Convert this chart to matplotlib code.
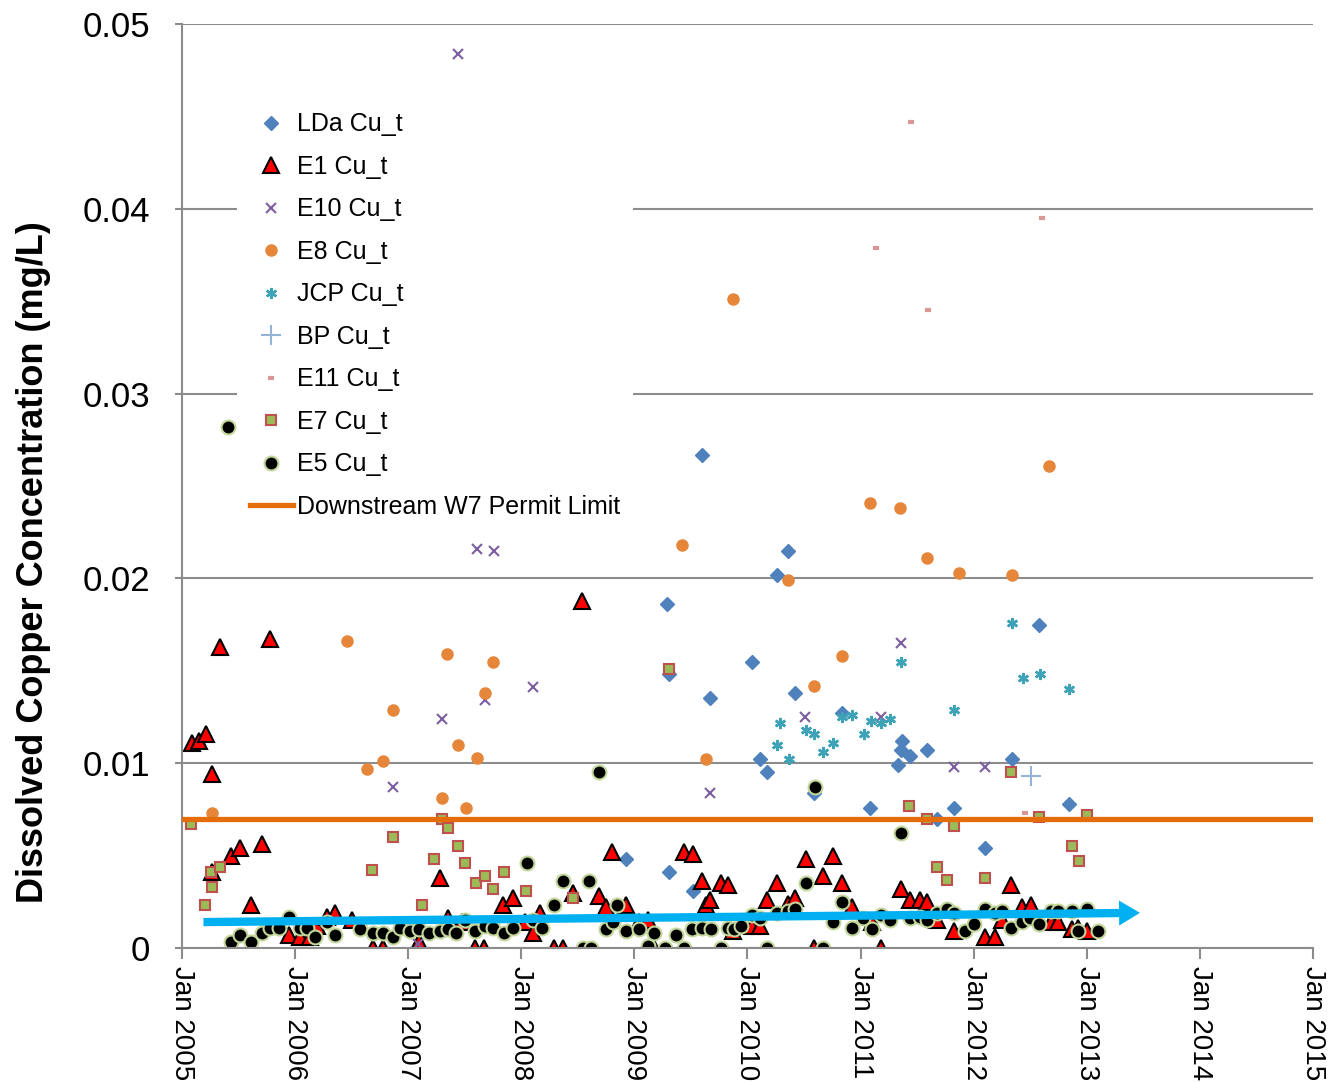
import numpy as np
import matplotlib
matplotlib.use("Agg")
import matplotlib.pyplot as plt

plt.rcParams['font.family'] = ['Liberation Sans', 'DejaVu Sans']

# decimal year, concentration (mg/L)
lda_t = [2009.60, 2009.29, 2009.31, 2009.67, 2008.93, 2009.31, 2009.52, 2010.04, 2010.11, 2010.17,
         2010.26, 2010.36, 2010.42, 2010.59, 2010.84, 2011.08, 2011.33, 2011.37, 2011.36, 2011.44,
         2011.59, 2011.68, 2011.83, 2012.10, 2012.34, 2012.58, 2012.84]
lda_v = [0.0267, 0.0186, 0.0148, 0.0135, 0.0048, 0.0041, 0.0031, 0.0155, 0.0102, 0.0095,
         0.0202, 0.0215, 0.0138, 0.0084, 0.0127, 0.0076, 0.0099, 0.0112, 0.0107, 0.0104,
         0.0107, 0.0070, 0.0076, 0.0054, 0.0102, 0.0175, 0.0078]

e1_t = [2005.09, 2005.15, 2005.21, 2005.27, 2005.34, 2005.78, 2008.54, 2005.27, 2005.43, 2005.51,
        2005.71, 2005.61, 2005.95, 2006.04, 2006.13, 2006.19, 2006.28, 2006.35, 2006.50, 2006.69,
        2006.78, 2007.10, 2007.28, 2007.35, 2007.48, 2007.59, 2007.67, 2007.84, 2007.93, 2008.03,
        2008.10, 2008.17, 2008.29, 2008.37, 2008.46, 2008.69, 2008.75, 2008.80, 2008.93, 2009.04,
        2009.12, 2009.17, 2009.44, 2009.52, 2009.60, 2009.63, 2009.67, 2009.77, 2009.83, 2009.87,
        2010.04, 2010.11, 2010.17, 2010.26, 2010.36, 2010.42, 2010.52, 2010.59, 2010.67, 2010.76,
        2010.84, 2010.92, 2011.10, 2011.18, 2011.36, 2011.44, 2011.53, 2011.59, 2011.68, 2011.83,
        2012.10, 2012.19, 2012.25, 2012.33, 2012.43, 2012.51, 2012.68, 2012.75, 2012.87, 2012.92,
        2013.00]
e1_v = [0.0111, 0.0112, 0.0116, 0.0094, 0.0163, 0.0167, 0.0188, 0.0041, 0.0050, 0.0054,
        0.0056, 0.0023, 0.0007, 0.0006, 0.0006, 0.0012, 0.0017, 0.0019, 0.0015, 0.0000,
        0.0000, 0.0003, 0.0038, 0.0016, 0.0014, 0.0000, 0.0000, 0.0023, 0.0027, 0.0014,
        0.0008, 0.0019, 0.0000, 0.0000, 0.0030, 0.0028, 0.0022, 0.0052, 0.0023, 0.0014,
        0.0015, 0.0000, 0.0052, 0.0051, 0.0036, 0.0023, 0.0026, 0.0035, 0.0034, 0.0009,
        0.0012, 0.0012, 0.0026, 0.0035, 0.0024, 0.0027, 0.0048, 0.0000, 0.0039, 0.0050,
        0.0035, 0.0022, 0.0014, 0.0000, 0.0032, 0.0026, 0.0026, 0.0025, 0.0015, 0.0009,
        0.0006, 0.0006, 0.0015, 0.0034, 0.0022, 0.0023, 0.0014, 0.0014, 0.0010, 0.0011,
        0.0009]

e10_t = [2007.44, 2007.61, 2007.76, 2008.10, 2007.30, 2007.68, 2006.87, 2007.09, 2009.67, 2010.51,
         2011.18, 2011.36, 2011.83, 2012.10]
e10_v = [0.0484, 0.0216, 0.0215, 0.0141, 0.0124, 0.0134, 0.0087, 0.0002, 0.0084, 0.0125,
         0.0125, 0.0165, 0.0098, 0.0098]

e8_t = [2009.87, 2009.42, 2011.08, 2011.35, 2011.59, 2011.87, 2012.34, 2012.67, 2010.36, 2006.46,
        2007.34, 2007.75, 2007.68, 2006.87, 2007.44, 2007.61, 2006.64, 2006.78, 2007.30, 2007.51,
        2005.27, 2009.63, 2010.59, 2010.84]
e8_v = [0.0351, 0.0218, 0.0241, 0.0238, 0.0211, 0.0203, 0.0202, 0.0261, 0.0199, 0.0166,
        0.0159, 0.0155, 0.0138, 0.0129, 0.0110, 0.0103, 0.0097, 0.0101, 0.0081, 0.0076,
        0.0073, 0.0102, 0.0142, 0.0158]

jcp_t = [2012.34, 2011.36, 2012.44, 2012.59, 2012.84, 2011.83, 2010.29, 2010.84, 2010.92, 2011.09,
         2011.18, 2011.26, 2010.52, 2010.59, 2011.03, 2010.76, 2010.67, 2010.26, 2010.37]
jcp_v = [0.0176, 0.0155, 0.0146, 0.0148, 0.0140, 0.0129, 0.0122, 0.0125, 0.0126, 0.0123,
         0.0122, 0.0124, 0.0118, 0.0116, 0.0116, 0.0111, 0.0106, 0.0110, 0.0102]

bp_t = [2012.51]
bp_v = [0.0093]

e11_t = [2011.45, 2012.60, 2011.14, 2011.60, 2012.45]
e11_v = [0.0447, 0.0395, 0.0379, 0.0345, 0.0073]

e7_t = [2005.08, 2005.26, 2005.34, 2005.27, 2005.20, 2006.87, 2006.68, 2007.30, 2007.35, 2007.44,
        2007.50, 2007.23, 2007.60, 2007.12, 2007.68, 2007.75, 2007.85, 2008.04, 2008.46, 2009.31,
        2012.33, 2011.43, 2011.59, 2011.83, 2011.68, 2011.76, 2012.10, 2012.58, 2013.00, 2012.87,
        2012.93]
e7_v = [0.0067, 0.0041, 0.0044, 0.0033, 0.0023, 0.0060, 0.0042, 0.0070, 0.0065, 0.0055,
        0.0046, 0.0048, 0.0035, 0.0023, 0.0039, 0.0032, 0.0041, 0.0031, 0.0027, 0.0151,
        0.0095, 0.0077, 0.0070, 0.0066, 0.0044, 0.0037, 0.0038, 0.0071, 0.0072, 0.0055,
        0.0047]

e5_t = [2005.41, 2008.69, 2010.60, 2011.36, 2008.05, 2008.37, 2008.60, 2008.85, 2008.29, 2010.52,
        2010.84, 2010.04, 2005.43, 2005.51, 2005.61, 2005.71, 2005.78, 2005.86, 2005.95, 2006.04,
        2006.11, 2006.18, 2006.28, 2006.35, 2006.57, 2006.69, 2006.78, 2006.87, 2006.93, 2007.02,
        2007.10, 2007.18, 2007.28, 2007.35, 2007.42, 2007.50, 2007.59, 2007.68, 2007.75, 2007.85,
        2007.93, 2008.10, 2008.18, 2008.55, 2008.62, 2008.75, 2008.81, 2008.93, 2009.04, 2009.12,
        2009.17, 2009.27, 2009.37, 2009.44, 2009.51, 2009.60, 2009.68, 2009.77, 2009.83, 2009.88,
        2009.94, 2010.11, 2010.17, 2010.26, 2010.36, 2010.42, 2010.67, 2010.76, 2010.92, 2011.02,
        2011.10, 2011.18, 2011.26, 2011.44, 2011.53, 2011.59, 2011.68, 2011.76, 2011.83, 2011.92,
        2012.00, 2012.10, 2012.19, 2012.25, 2012.33, 2012.43, 2012.50, 2012.58, 2012.68, 2012.75,
        2012.87, 2012.92, 2013.00, 2013.10]
e5_v = [0.0282, 0.0095, 0.0087, 0.0062, 0.0046, 0.0036, 0.0036, 0.0023, 0.0023, 0.0035,
        0.0025, 0.0018, 0.0003, 0.0007, 0.0003, 0.0008, 0.0011, 0.0011, 0.0017, 0.0011,
        0.0011, 0.0006, 0.0014, 0.0007, 0.0010, 0.0008, 0.0008, 0.0006, 0.0011, 0.0009,
        0.0010, 0.0008, 0.0009, 0.0010, 0.0008, 0.0015, 0.0009, 0.0012, 0.0011, 0.0008,
        0.0011, 0.0015, 0.0011, 0.0000, 0.0000, 0.0010, 0.0014, 0.0009, 0.0010, 0.0001,
        0.0008, 0.0000, 0.0007, 0.0000, 0.0010, 0.0011, 0.0010, 0.0000, 0.0011, 0.0010,
        0.0012, 0.0016, 0.0000, 0.0019, 0.0020, 0.0021, 0.0000, 0.0014, 0.0011, 0.0016,
        0.0010, 0.0018, 0.0015, 0.0016, 0.0017, 0.0015, 0.0019, 0.0021, 0.0019, 0.0009,
        0.0013, 0.0021, 0.0019, 0.0020, 0.0011, 0.0014, 0.0016, 0.0013, 0.0020, 0.0020,
        0.0020, 0.0009, 0.0021, 0.0009]

permit_limit = 0.007
trend_t = [2005.19, 2013.47]
trend_v = [0.0014, 0.0019]

years = list(range(2005, 2016))
year_labels = ["Jan %d" % y for y in years]

fig = plt.figure(figsize=(13.32, 10.83), dpi=100)
ax = fig.add_axes([0.1366, 0.1247, 0.8491, 0.8531])

grid_c = '#8c8c8c'
ax.plot(lda_t, lda_v, 'D', ms=7, color='#4f81bd', mec='#4f81bd', label='LDa Cu_t')
ax.plot(e1_t, e1_v, '^', ms=11, color='#ff0000', mec='black', mew=1.5, label='E1 Cu_t')
ax.plot(e10_t, e10_v, 'x', ms=7, color='#7d5fa0', mew=1.5, label='E10 Cu_t')
ax.plot(e8_t, e8_v, 'o', ms=8, color='#e5863a', mec='#e5863a', label='E8 Cu_t')
ax.plot(jcp_t, jcp_v, marker=(6, 2, 0), ls='none', ms=8, color='#3fa3b8', mew=1.8, label='JCP Cu_t')
ax.plot(bp_t, bp_v, '+', ms=15, color='#95b3d7', mew=1.5, label='BP Cu_t')
ax.plot(e11_t, e11_v, '_', ms=5, color='#d99694', mew=3, label='E11 Cu_t')
ax.plot(e7_t, e7_v, 's', ms=7, color='#9bbb59', mec='#c0504d', mew=1.5, label='E7 Cu_t')
ax.plot(e5_t, e5_v, 'o', ms=10, color='black', mec='#c3d69b', mew=1.5, label='E5 Cu_t')
ax.axhline(permit_limit, color='#e46c0a', lw=3.8, label='Downstream W7 Permit Limit', zorder=4)

ax.annotate('', xy=(trend_t[1], trend_v[1]), xytext=(trend_t[0], trend_v[0]),
            arrowprops=dict(arrowstyle='simple,head_length=0.75,head_width=0.9,tail_width=0.3',
                            mutation_scale=20, color='#00b0f0', lw=0, shrinkA=0, shrinkB=0),
            zorder=6)

ax.set_xlim(2005, 2015)
ax.set_ylim(0, 0.05)
ax.set_xticks(years)
ax.set_xticklabels(year_labels, rotation=-90, fontsize=20)
ax.set_yticks([0, 0.01, 0.02, 0.03, 0.04, 0.05])
ax.set_yticklabels(['0', '0.01', '0.02', '0.03', '0.04', '0.05'], fontsize=25)
ax.tick_params(axis='x', length=8, width=1.5, color=grid_c, pad=5)
ax.tick_params(axis='y', length=5, width=1.5, color=grid_c, pad=18)
ax.yaxis.grid(True, color=grid_c, lw=1.5)
ax.set_axisbelow(True)
for s in ['top', 'right']:
    ax.spines[s].set_visible(False)
for s in ['left', 'bottom']:
    ax.spines[s].set_color(grid_c)
    ax.spines[s].set_linewidth(1.5)

ax.set_ylabel('Dissolved Copper Concentration (mg/L)', fontsize=26, fontweight='bold', va='center')
ax.yaxis.set_label_coords(-0.131, 0.418)

leg = ax.legend(loc='upper left', bbox_to_anchor=(0.0487, 0.918), borderaxespad=0,
                fontsize=18, numpoints=1, handlelength=1.75, handletextpad=0.15,
                labelspacing=0.74, frameon=True, fancybox=False, framealpha=1,
                borderpad=0.5)
leg.get_frame().set_edgecolor('none')
leg.set_zorder(10)

fig.savefig('out.png', dpi=100)
